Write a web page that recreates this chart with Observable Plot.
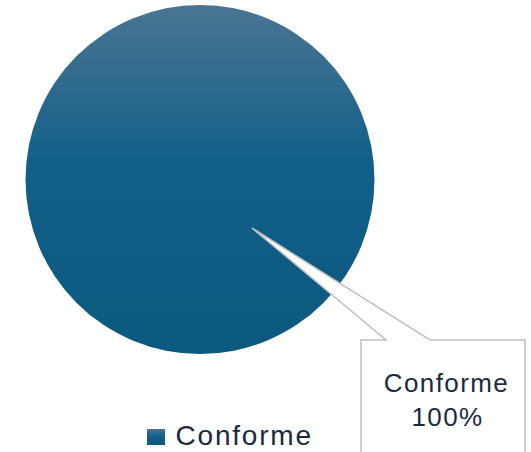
<!DOCTYPE html>
<html><head><meta charset="utf-8">
<script src="https://cdn.jsdelivr.net/npm/d3@7"></script>
<script src="https://cdn.jsdelivr.net/npm/@observablehq/plot@0.6"></script>
<style>body{margin:0;background:#fff;overflow:hidden}</style>
</head><body><div id="chart"></div>
<script>
const categories = ["Conforme"];
const values = [100];
const percentLabels = ["100%"];

const W = 531, H = 452;
const CX = 200, CY = 179.5, R = 174.5;
const TEXT = "#1b2a3f";
const data = categories.map((c, i) => ({category: c, value: values[i], pct: percentLabels[i]}));
const arcs = d3.pie().value(d => d.value).sort(null)(data);

function addGradient(g, id) {
  const grad = g.append("defs").append("linearGradient").attr("id", id)
    .attr("x1", 0).attr("y1", 0).attr("x2", 0).attr("y2", 1);
  grad.append("stop").attr("offset", "0%").attr("stop-color", "#4a7592");
  grad.append("stop").attr("offset", "45%").attr("stop-color", "#12608a");
  grad.append("stop").attr("offset", "100%").attr("stop-color", "#0b597e");
}

function pieMark(index, scales, vals, dimensions, context) {
  const g = d3.create("svg:g");
  addGradient(g, "sliceGrad");
  const arc = d3.arc().innerRadius(0).outerRadius(R);
  g.selectAll("path.slice").data(arcs).join("path")
    .attr("class", "slice")
    .attr("transform", `translate(${scales.x(CX)},${scales.y(CY)})`)
    .attr("d", arc)
    .attr("fill", "url(#sliceGrad)");
  const ax = scales.x(252), ay = scales.y(228);
  const bl = scales.x(361), bt = scales.y(340), br = scales.x(525), bb = scales.y(470);
  const p1 = scales.x(386), p2 = scales.x(430);
  g.append("path")
    .attr("d", `M${bl},${bt}L${p1},${bt}L${ax},${ay}L${p2},${bt}L${br},${bt}L${br},${bb}L${bl},${bb}Z`)
    .attr("fill", "#fff").attr("stroke", "#bfbfbf").attr("stroke-width", 1.5)
    .attr("stroke-linejoin", "miter");
  addGradient(g, "legGrad");
  g.append("rect").attr("x", scales.x(147)).attr("y", scales.y(429))
    .attr("width", 18).attr("height", 16).attr("fill", "url(#legGrad)");
  return g.node();
}

const chart = Plot.plot({
  width: W, height: H,
  margin: 0,
  x: {domain: [0, W], range: [0, W], axis: null},
  y: {domain: [0, H], range: [0, H], axis: null},
  style: {fontFamily: "'Liberation Sans', Arial, sans-serif", background: "#fff"},
  marks: [
    pieMark,
    Plot.text(data, {x: () => 446, y: () => 383, text: d => d.category, fontSize: 26, fill: TEXT, textAnchor: "middle", lineAnchor: "middle"}),
    Plot.text(data, {x: () => 447, y: () => 417, text: d => d.pct, fontSize: 26, fill: TEXT, textAnchor: "middle", lineAnchor: "middle"}),
    Plot.text(data, {x: () => 175, y: () => 436, text: d => d.category, fontSize: 28, fill: TEXT, textAnchor: "start", lineAnchor: "middle"})
  ]
});
const texts = d3.select(chart).selectAll("text");
texts.filter((d, i) => i < 2).style("letter-spacing", "1.4px");
texts.filter((d, i) => i === 2).style("letter-spacing", "1.8px");
document.getElementById("chart").appendChild(chart);
</script>
</body></html>
